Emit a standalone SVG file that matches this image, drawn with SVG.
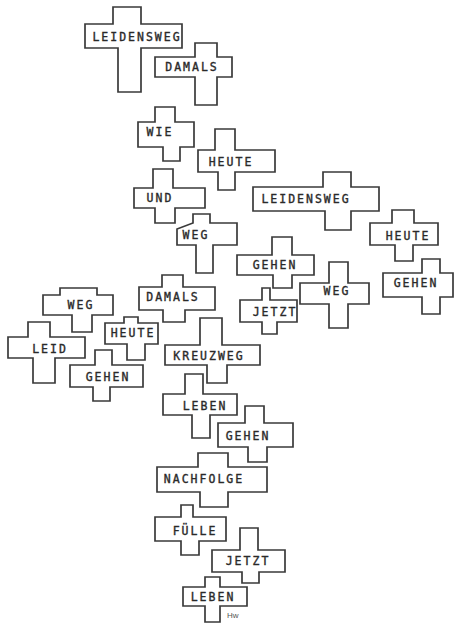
<svg xmlns="http://www.w3.org/2000/svg" width="455" height="623" viewBox="0 0 455 623">
<style>
.c{fill:#fff;stroke:#3a3a3a;stroke-width:1.7;stroke-linejoin:miter}
.t{font-family:"DejaVu Sans Mono","Liberation Mono",monospace;font-size:11.5px;letter-spacing:2px;fill:#2a2a2a;stroke:#2a2a2a;stroke-width:0.35;text-anchor:middle}
.s{font-family:"Liberation Sans",sans-serif;font-size:8px;fill:#555}
</style>
<rect width="455" height="623" fill="#fff"/>
<g id="leidensweg1"><path class="c" d="M113,24V7H141V24H182V48H141V92H118V48H85V24Z"/><text class="t" x="137" y="41">LEIDENSWEG</text></g>
<g id="damals1"><path class="c" d="M195,57V43H217V57H232V77H217V105H195V77H155V57Z"/><text class="t" x="192" y="71">DAMALS</text></g>
<g id="wie"><path class="c" d="M155,122V107H175V122H194V147H180V161H163V147H138V122Z"/><text class="t" x="160" y="136">WIE</text></g>
<g id="heute1"><path class="c" d="M215,150V129H235V150H275V172H235V190H218V172H198V150Z"/><text class="t" x="231" y="166">HEUTE</text></g>
<g id="und"><path class="c" d="M153,188V169H173V188H205V208H175V223H155V208H134V188Z"/><text class="t" x="160" y="202">UND</text></g>
<g id="weg1"><path class="c" d="M193,223V214H210V223H237V245H213V273H196V245H177V229Z"/><text class="t" x="196" y="239">WEG</text></g>
<g id="leidensweg2"><path class="c" d="M323,187V172H351V187H379V211H351V230H325V211H253V187Z"/><text class="t" x="306" y="203">LEIDENSWEG</text></g>
<g id="heute2"><path class="c" d="M392,223V210H414V223H438V245H413V261H395V245H370V223Z"/><text class="t" x="408" y="240">HEUTE</text></g>
<g id="gehen1"><path class="c" d="M422,273V259H440V273H453V297H440V314H422V297H383V273Z"/><text class="t" x="416" y="287">GEHEN</text></g>
<g id="gehen2"><path class="c" d="M272,255V237H292V255H314V275H292V288H273V275H237V255Z"/><text class="t" x="275" y="269">GEHEN</text></g>
<g id="weg2"><path class="c" d="M329,283V262H348V283H369V304H348V328H329V304H300V283Z"/><text class="t" x="337" y="295">WEG</text></g>
<g id="jetzt1"><path class="c" d="M262,300V288H270V300H297V322H277V334H262V322H240V300Z"/><text class="t" x="275" y="316">JETZT</text></g>
<g id="damals2"><path class="c" d="M162,287V275H183V287H215V310H185V322H163V310H139V287Z"/><text class="t" x="173" y="301">DAMALS</text></g>
<g id="kreuzweg"><path class="c" d="M200,345V318H222V345H260V365H227V383H207V365H165V345Z"/><text class="t" x="209" y="360">KREUZWEG</text></g>
<g id="weg3"><path class="c" d="M60,295V288H97V295H113V315H92V332H72V315H43V295Z"/><text class="t" x="81" y="309">WEG</text></g>
<g id="leid"><path class="c" d="M28,337V322H50V337H85V358H55V383H33V358H8V337Z"/><text class="t" x="50" y="353">LEID</text></g>
<g id="heute3"><path class="c" d="M124,323V317H138V323H158V344H145V360H127V344H105V323Z"/><text class="t" x="133" y="337">HEUTE</text></g>
<g id="gehen3"><path class="c" d="M95,365V350H112V365H143V387H110V401H93V387H70V365Z"/><text class="t" x="108" y="381">GEHEN</text></g>
<g id="leben1"><path class="c" d="M185,394V374H203V394H237V415H210V438H192V415H163V394Z"/><text class="t" x="205" y="410">LEBEN</text></g>
<g id="gehen4"><path class="c" d="M245,423V406H264V423H293V447H267V462H248V447H218V423Z"/><text class="t" x="248" y="440">GEHEN</text></g>
<g id="nachfolge"><path class="c" d="M198,467V453H228V467H267V492H228V507H200V492H157V467Z"/><text class="t" x="204" y="483">NACHFOLGE</text></g>
<g id="fuelle"><path class="c" d="M181,517V505H193V517H226V541H199V555H181V541H155V517Z"/><text class="t" x="195" y="535">FÜLLE</text></g>
<g id="jetzt2"><path class="c" d="M240,550V528H258V550H285V572H259V583H242V572H212V550Z"/><text class="t" x="248" y="565">JETZT</text></g>
<g id="leben2"><path class="c" d="M205,587V577H220V587H247V606H220V622H205V606H183V587Z"/><text class="t" x="213" y="601">LEBEN</text></g>
<text class="s" x="227" y="618">Hw</text>
</svg>
